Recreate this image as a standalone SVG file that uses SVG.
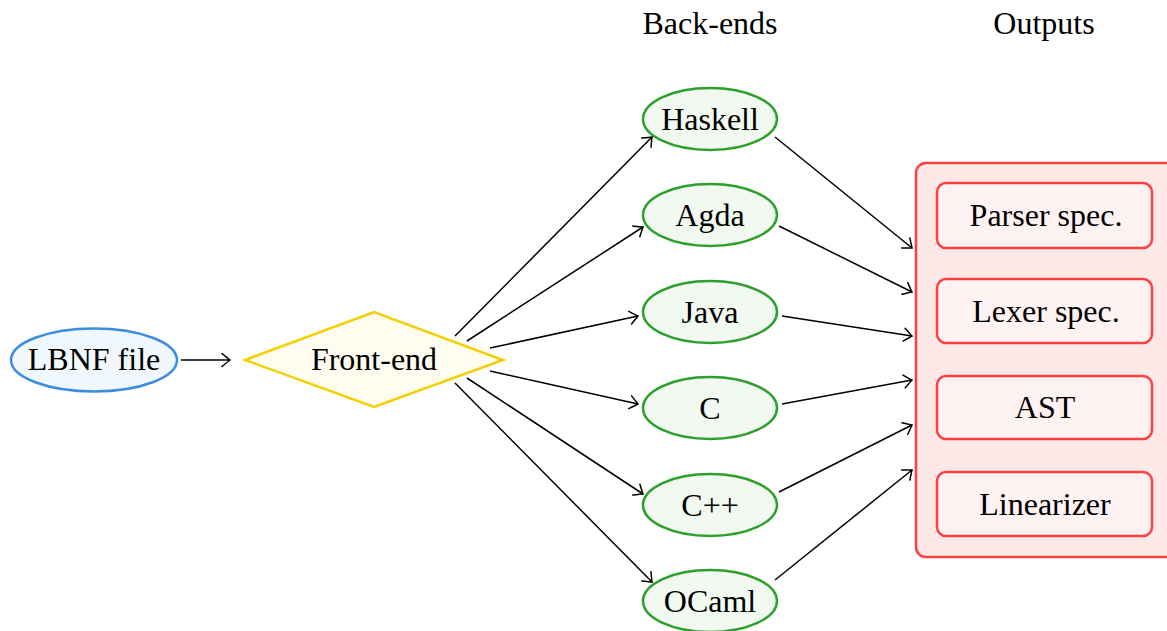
<svg xmlns="http://www.w3.org/2000/svg" width="1167" height="631" viewBox="0 0 1167 631">
<style>
text{font-family:'Liberation Serif','DejaVu Serif',serif;font-size:32px;fill:#000;text-anchor:middle}
.be{fill:#f2f9f1;stroke:#2ca02c;stroke-width:2.5}
.ob{fill:#fff2f2;stroke:#ff4040;stroke-width:2.5}
.cn line{stroke:#000;stroke-width:1.5;marker-end:url(#to)}
</style>
<defs>
<marker id="to" viewBox="-10 -8 12 16" refX="0" refY="0" markerWidth="12" markerHeight="16" markerUnits="userSpaceOnUse" orient="auto">
<path d="M-8,-6.5 Q-2,-1.5 0,0 Q-2,1.5 -8,6.5" fill="none" stroke="#000" stroke-width="1.5" stroke-linecap="round"/>
</marker>
</defs>
<rect width="1167" height="631" fill="#fff"/>
<g font-family="Liberation Serif, DejaVu Serif, serif">
<text x="710" y="34">Back-ends</text>
<text x="1044" y="34">Outputs</text>
<g id="outputs">
<rect x="916" y="163" width="262" height="394" rx="10" fill="#ffe8e8" stroke="#ff4040" stroke-width="2.5"/>
</g>
<g id="parser"><rect class="ob" x="937" y="183" width="215" height="65" rx="9"/><text x="1046" y="226">Parser spec.</text></g>
<g id="lexer"><rect class="ob" x="937" y="279" width="215" height="64" rx="9"/><text x="1046" y="322">Lexer spec.</text></g>
<g id="ast"><rect class="ob" x="937" y="376" width="215" height="63" rx="9"/><text x="1045" y="418">AST</text></g>
<g id="linearizer"><rect class="ob" x="937" y="472" width="215" height="64" rx="9"/><text x="1045" y="515">Linearizer</text></g>
<g id="lbnf"><ellipse cx="94" cy="360" rx="83" ry="31.5" fill="#f0f7fd" stroke="#3a8ee0" stroke-width="2.5"/><text x="94" y="370">LBNF file</text></g>
<g id="frontend"><polygon points="245,360 374,312 503,360 374,407" fill="#fffcf0" stroke="#f5d000" stroke-width="2.5"/><text x="374" y="370">Front-end</text></g>
<g id="haskell"><ellipse class="be" cx="710" cy="119" rx="67" ry="31"/><text x="710" y="130">Haskell</text></g>
<g id="agda"><ellipse class="be" cx="710" cy="215" rx="67" ry="31"/><text x="710" y="226">Agda</text></g>
<g id="java"><ellipse class="be" cx="710" cy="312" rx="67" ry="31"/><text x="710" y="323">Java</text></g>
<g id="c"><ellipse class="be" cx="710" cy="408" rx="67" ry="31"/><text x="710" y="419">C</text></g>
<g id="cpp"><ellipse class="be" cx="710" cy="505" rx="67" ry="31"/><text x="710" y="516">C++</text></g>
<g id="ocaml"><ellipse class="be" cx="710" cy="601" rx="67" ry="31"/><text x="710" y="612">OCaml</text></g>
</g>
<g class="cn" id="connectors">
<line x1="181" y1="360" x2="230" y2="360"/>
<line x1="455" y1="336" x2="652" y2="137"/>
<line x1="467" y1="341" x2="643" y2="227"/>
<line x1="490" y1="348" x2="638" y2="316"/>
<line x1="490" y1="371" x2="638" y2="404"/>
<line x1="467" y1="378" x2="643" y2="494"/>
<line x1="455" y1="383" x2="652" y2="582"/>
<line x1="775" y1="137" x2="912" y2="248"/>
<line x1="779" y1="226" x2="912" y2="292"/>
<line x1="782" y1="316" x2="912" y2="336"/>
<line x1="782" y1="404" x2="912" y2="380"/>
<line x1="779" y1="492" x2="912" y2="425"/>
<line x1="775" y1="580" x2="912" y2="470"/>
</g>
</svg>
